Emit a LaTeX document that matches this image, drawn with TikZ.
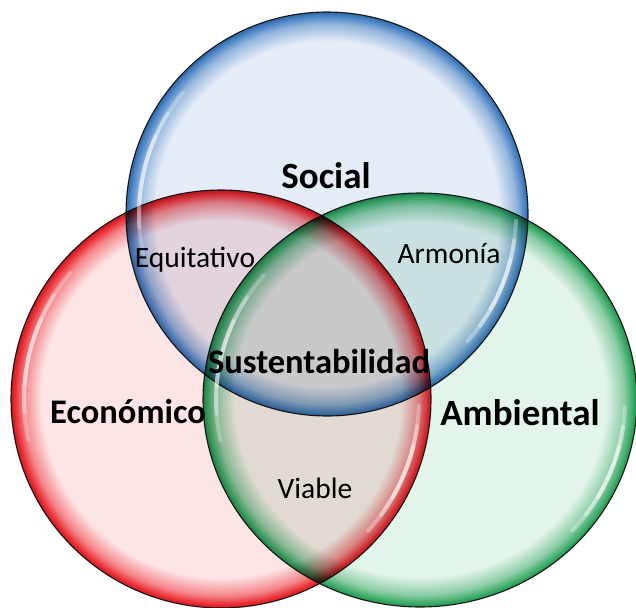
\documentclass[tikz,border=0pt]{standalone}
\usepackage{fontspec}
\setmainfont{Carlito}
\definecolor{bfill}{HTML}{E4ECF7}
\definecolor{bedge}{HTML}{4580C4}
\definecolor{rfill}{HTML}{FDE4E5}
\definecolor{redge}{HTML}{EA2930}
\definecolor{gfill}{HTML}{E3F4EA}
\definecolor{gedge}{HTML}{34A862}
\pgfdeclareradialshading{socialshade}{\pgfpoint{0bp}{0bp}}{color(0bp)=(bfill); color(21.4bp)=(bfill); color(23.5bp)=(bedge!50!bfill); color(24.6bp)=(bedge); color(25bp)=(bedge!80!black); color(50bp)=(bedge)}
\pgfdeclareradialshading{econshade}{\pgfpoint{0bp}{0bp}}{color(0bp)=(rfill); color(21.4bp)=(rfill); color(23.5bp)=(redge!50!rfill); color(24.6bp)=(redge); color(25bp)=(redge!80!black); color(50bp)=(redge)}
\pgfdeclareradialshading{ambshade}{\pgfpoint{0bp}{0bp}}{color(0bp)=(gfill); color(21.4bp)=(gfill); color(23.5bp)=(gedge!50!gfill); color(24.6bp)=(gedge); color(25bp)=(gedge!80!black); color(50bp)=(gedge)}
\tikzset{
  bigl/.style={font=\fontsize{34.5}{40}\selectfont\bfseries, anchor=base, inner sep=0pt},
  bigger/.style={font=\fontsize{37}{42}\selectfont\bfseries, anchor=base, inner sep=0pt},
  smalll/.style={font=\fontsize{29.5}{34}\selectfont, anchor=base, inner sep=0pt},
  rim/.style={draw=black, line width=1.1pt, draw opacity=0.85},
  gloss/.style={draw=white, line cap=round, line width=4pt},
}
\begin{document}
\begin{tikzpicture}[x=1pt,y=-1pt]
\useasboundingbox (0,0) rectangle (636,607);
\coordinate (cs) at (327,214);
\coordinate (ce) at (221,399);
\coordinate (ca) at (420,400);
% circles, multiplied
\shade[shading=socialshade, blend mode=multiply] (cs) ellipse [x radius=201, y radius=202];
\shade[shading=econshade, blend mode=multiply] (ce) ellipse [x radius=210, y radius=209];
\shade[shading=ambshade, blend mode=multiply] (ca) ellipse [x radius=217, y radius=207];
\draw[rim] (cs) ellipse [x radius=201, y radius=202];
\draw[rim] (ce) ellipse [x radius=210, y radius=209];
\draw[rim] (ca) ellipse [x radius=217, y radius=207];
% gloss highlights
\foreach \c/\rx/\ry in {cs/201/202, ce/210/209, ca/217/207}{
  \foreach \a/\b/\o in {-140/-192/0.25, -148/-184/0.3, -156/-176/0.35}{
    \draw[gloss, draw opacity=\o] ([shift={(\a:{\rx-13} and {\ry-13})}]\c) arc[start angle=\a, end angle=\b, x radius=\rx-13, y radius=\ry-13];
  }
  \foreach \a/\b/\o in {2/42/0.3, 8/36/0.35, 14/30/0.4}{
    \draw[gloss, draw opacity=\o] ([shift={(\a:{\rx-12} and {\ry-12})}]\c) arc[start angle=\a, end angle=\b, x radius=\rx-12, y radius=\ry-12];
  }
}
% labels
\node[bigger] (social) at (326,188) {Social};
\node[bigl] (econ) at (128,423) {Económico};
\node[bigger] (amb) at (520,425) {Ambiental};
\node[bigl] (sust) at (319,373) {Sustentabilidad};
\node[smalll] (equi) at (195,267) {Equitativo};
\node[smalll] (armo) at (449,263) {Armonía};
\node[smalll] (viab) at (315,498) {Viable};
\end{tikzpicture}
\end{document}
